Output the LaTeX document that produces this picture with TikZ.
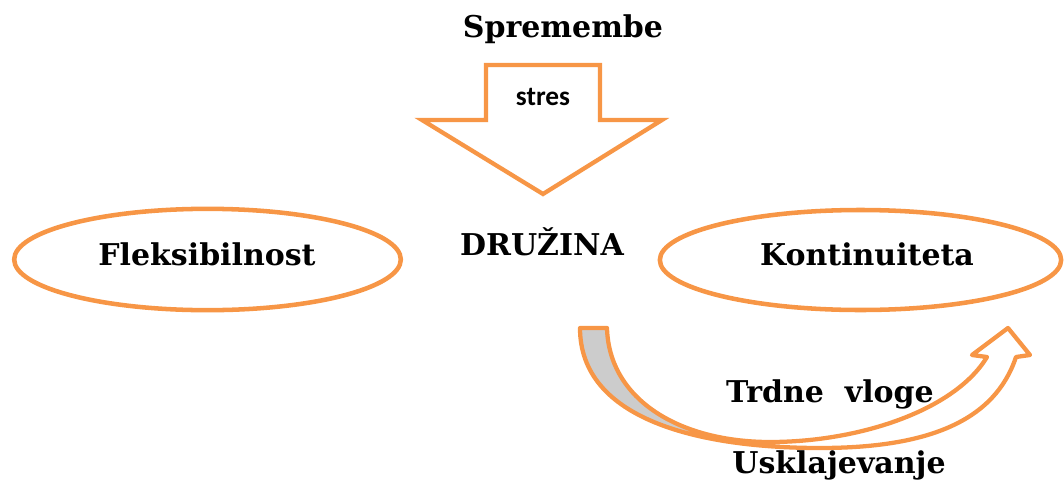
\documentclass[tikz,border=0pt]{standalone}
\usepackage{fontspec}
\setmainfont{DejaVu Serif}
\newfontfamily\calibfont{Carlito}
\usetikzlibrary{shapes.geometric}
\definecolor{accent}{HTML}{F79646}
\definecolor{greyface}{HTML}{CCCCCC}
\begin{document}
\begin{tikzpicture}[x=0.75pt,y=-0.75pt,
  label/.style={font=\fontsize{22.5}{27}\selectfont\bfseries, inner sep=0pt, anchor=base},
  oval/.style={draw=accent, line width=3.4pt, ellipse, inner sep=0pt},
  outline/.style={draw=accent, line width=3.2pt, line join=miter}]
\useasboundingbox (0,0) rectangle (1064,482);
% top label
\node[label] (spr) at (563,37) {Spremembe};
% down block arrow
\draw[outline, fill=white] (486,65) -- (600,65) -- (600,120) -- (662,120) -- (543,194) -- (422,120) -- (486,120) -- cycle;
\node[inner sep=0pt, anchor=base, font=\calibfont\fontsize{20.5}{24}\selectfont\bfseries] (stres) at (543,105) {stres};
% centre
\node[label] (dru) at (542,255) {DRUŽINA};
% ellipses
\node[oval, minimum width=290pt, minimum height=76pt] (flex) at (207.5,259.5) {};
\node[label] at (207,265) {Fleksibilnost};
\node[oval, minimum width=301pt, minimum height=75pt] (kont) at (860.5,260) {};
\node[label] at (867,265) {Kontinuiteta};
% curved arrow
\coordinate (a0) at (580,328);
\coordinate (a1) at (820,448);
\coordinate (rn) at (1016,357);
\coordinate (rb) at (1030,355);
\coordinate (tip) at (1008,328);
\coordinate (lb) at (972,355);
\coordinate (ln) at (987,357);
\coordinate (b1) at (770,442);
\coordinate (b0) at (607,328);
\begin{scope}
\clip (0,0) rectangle (745,482);
\fill[greyface] (a0) .. controls (580,420) and (700,448) .. (a1) -- (b1) .. controls (680,442) and (609,400) .. (b0) -- cycle;
\end{scope}
\draw[outline, line join=round] (a0) .. controls (580,420) and (700,448) .. (a1)
  .. controls (930,448) and (995,420) .. (rn) -- (rb) -- (tip) -- (lb) -- (ln)
  .. controls (955,410) and (860,442) .. (b1)
  .. controls (680,442) and (609,400) .. (b0) -- cycle;
\node[label] (trd) at (830,402) {Trdne\ \ vloge};
\node[label] (usk) at (839,473) {Usklajevanje};
\end{tikzpicture}
\end{document}
